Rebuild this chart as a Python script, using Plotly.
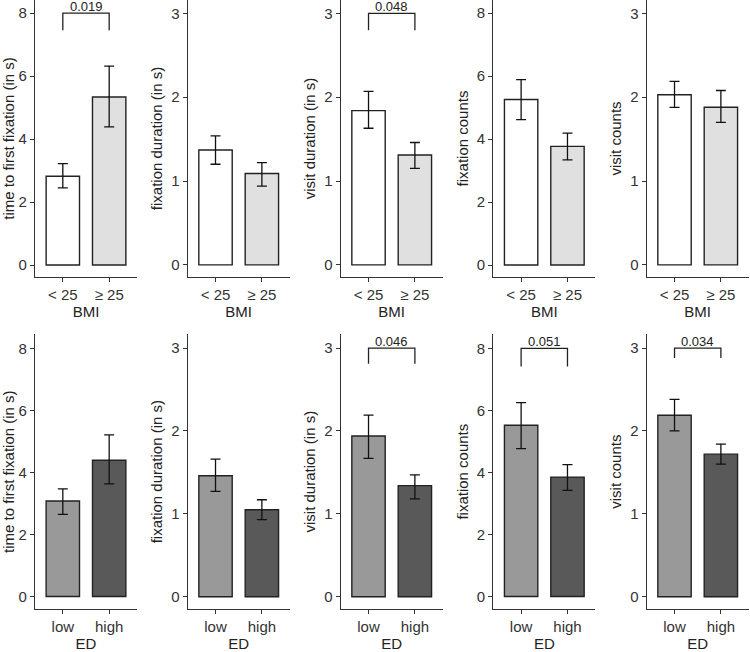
import plotly.graph_objects as go

# ---------------- data ----------------
measures = ["time to first fixation (in s)", "fixation duration (in s)",
            "visit duration (in s)", "fixation counts", "visit counts"]
measure_ticks = [[0, 2, 4, 6, 8], [0, 1, 2, 3], [0, 1, 2, 3], [0, 2, 4, 6, 8], [0, 1, 2, 3]]

bmi_groups = ["< 25", "\u2265 25"]
bmi_mean = [[2.82, 5.34], [1.37, 1.09], [1.84, 1.31], [5.26, 3.77], [2.03, 1.88]]
bmi_upper = [[3.22, 6.32], [1.54, 1.22], [2.07, 1.46], [5.89, 4.19], [2.19, 2.08]]
bmi_lower = [[2.45, 4.39], [1.20, 0.94], [1.63, 1.15], [4.62, 3.34], [1.88, 1.70]]
bmi_pvalue = ["0.019", None, "0.048", None, None]
bmi_bracket_top = [8, None, 3, None, None]
bmi_bracket_tip = [7.46, None, 2.80, None, None]

ed_groups = ["low", "high"]
ed_mean = [[3.08, 4.39], [1.46, 1.05], [1.94, 1.34], [5.52, 3.85], [2.19, 1.72]]
ed_upper = [[3.47, 5.21], [1.66, 1.17], [2.19, 1.47], [6.25, 4.25], [2.38, 1.84]]
ed_lower = [[2.65, 3.63], [1.27, 0.93], [1.67, 1.18], [4.77, 3.42], [2.00, 1.60]]
ed_pvalue = [None, None, "0.046", "0.051", "0.034"]
ed_bracket_top = [None, None, 3, 8, 3]
ed_bracket_tip = [None, None, 2.81, 7.41, 2.88]

# ---------------- styling ----------------
W, H = 750, 652
FONT = "Liberation Sans, Arial, sans-serif"
AX_COLOR = "#333333"
col_starts = [35, 187.7, 340.7, 493.3, 646.7]
plot_w = 102
rows = [
    dict(groups=bmi_groups, mean=bmi_mean, upper=bmi_upper, lower=bmi_lower,
         pval=bmi_pvalue, btop=bmi_bracket_top, btip=bmi_bracket_tip,
         colors=["#ffffff", "#e0e0e0"], xtitle="BMI",
         ydom=[1 - 277 / H, 1.0], r8=[-0.38, 8.42], r3=[-0.145, 3.16]),
    dict(groups=ed_groups, mean=ed_mean, upper=ed_upper, lower=ed_lower,
         pval=ed_pvalue, btop=ed_bracket_top, btip=ed_bracket_tip,
         colors=["#999999", "#595959"], xtitle="ED",
         ydom=[1 - 609.3 / H, 1 - 334 / H], r8=[-0.41, 8.46], r3=[-0.152, 3.17]),
]

fig = go.Figure()
layout = {}
annotations = []
k = 0
for ri, row in enumerate(rows):
    for ci in range(5):
        k += 1
        xa = "x" if k == 1 else f"x{k}"
        ya = "y" if k == 1 else f"y{k}"
        xkey = "xaxis" if k == 1 else f"xaxis{k}"
        ykey = "yaxis" if k == 1 else f"yaxis{k}"
        means = row["mean"][ci]
        ups = [u - m for u, m in zip(row["upper"][ci], means)]
        los = [m - l for l, m in zip(row["lower"][ci], means)]
        fig.add_trace(go.Bar(
            x=row["groups"], y=means, xaxis=xa, yaxis=ya, width=0.72,
            marker=dict(color=row["colors"], line=dict(color="#222222", width=1.4)),
            error_y=dict(type="data", array=ups, arrayminus=los, visible=True,
                         color="#111111", thickness=1.3, width=5),
            showlegend=False, hoverinfo="skip"))
        if row["pval"][ci] is not None:
            top = row["btop"][ci]
            tip = row["btip"][ci]
            fig.add_trace(go.Scatter(
                x=[row["groups"][0], row["groups"][0], row["groups"][1], row["groups"][1]],
                y=[tip, top, top, tip], mode="lines", xaxis=xa, yaxis=ya,
                line=dict(color="#222222", width=1.3), showlegend=False, hoverinfo="skip"))
            annotations.append(dict(
                x=0.5, y=top, xref=xa, yref=ya, text=row["pval"][ci], showarrow=False,
                yanchor="bottom", yshift=-2, borderpad=0,
                font=dict(family=FONT, size=13, color="#222222")))
        ticks = measure_ticks[ci]
        yr = row["r8"] if max(ticks) == 8 else row["r3"]
        x0 = col_starts[ci] / W
        x1 = (col_starts[ci] + plot_w) / W
        layout[xkey] = dict(
            domain=[x0, x1], anchor=ya, type="category", range=[-0.6, 1.6],
            showline=True, linecolor=AX_COLOR, linewidth=1.3, mirror=False,
            ticks="outside", ticklen=4, tickcolor=AX_COLOR, tickwidth=1.2,
            showgrid=False, zeroline=False, fixedrange=True,
            tickfont=dict(family=FONT, size=15, color="#333333"),
            title=dict(text=row["xtitle"], font=dict(family=FONT, size=15, color="#222222"), standoff=1))
        layout[ykey] = dict(
            domain=row["ydom"], anchor=xa, range=yr, tickvals=ticks,
            showline=True, linecolor=AX_COLOR, linewidth=1.3,
            ticks="outside", ticklen=4, tickcolor=AX_COLOR, tickwidth=1.2,
            showgrid=False, zeroline=False, fixedrange=True,
            tickfont=dict(family=FONT, size=15, color="#333333"),
            title=dict(text=measures[ci], font=dict(family=FONT, size=15, color="#222222"), standoff=4))

fig.update_layout(
    width=W, height=H, margin=dict(l=0, r=0, t=0, b=0),
    paper_bgcolor="white", plot_bgcolor="white",
    annotations=annotations, **layout)

fig.write_html("out.html", config={"displayModeBar": False},
               post_script="document.body.style.margin='0';document.body.style.padding='0';")
